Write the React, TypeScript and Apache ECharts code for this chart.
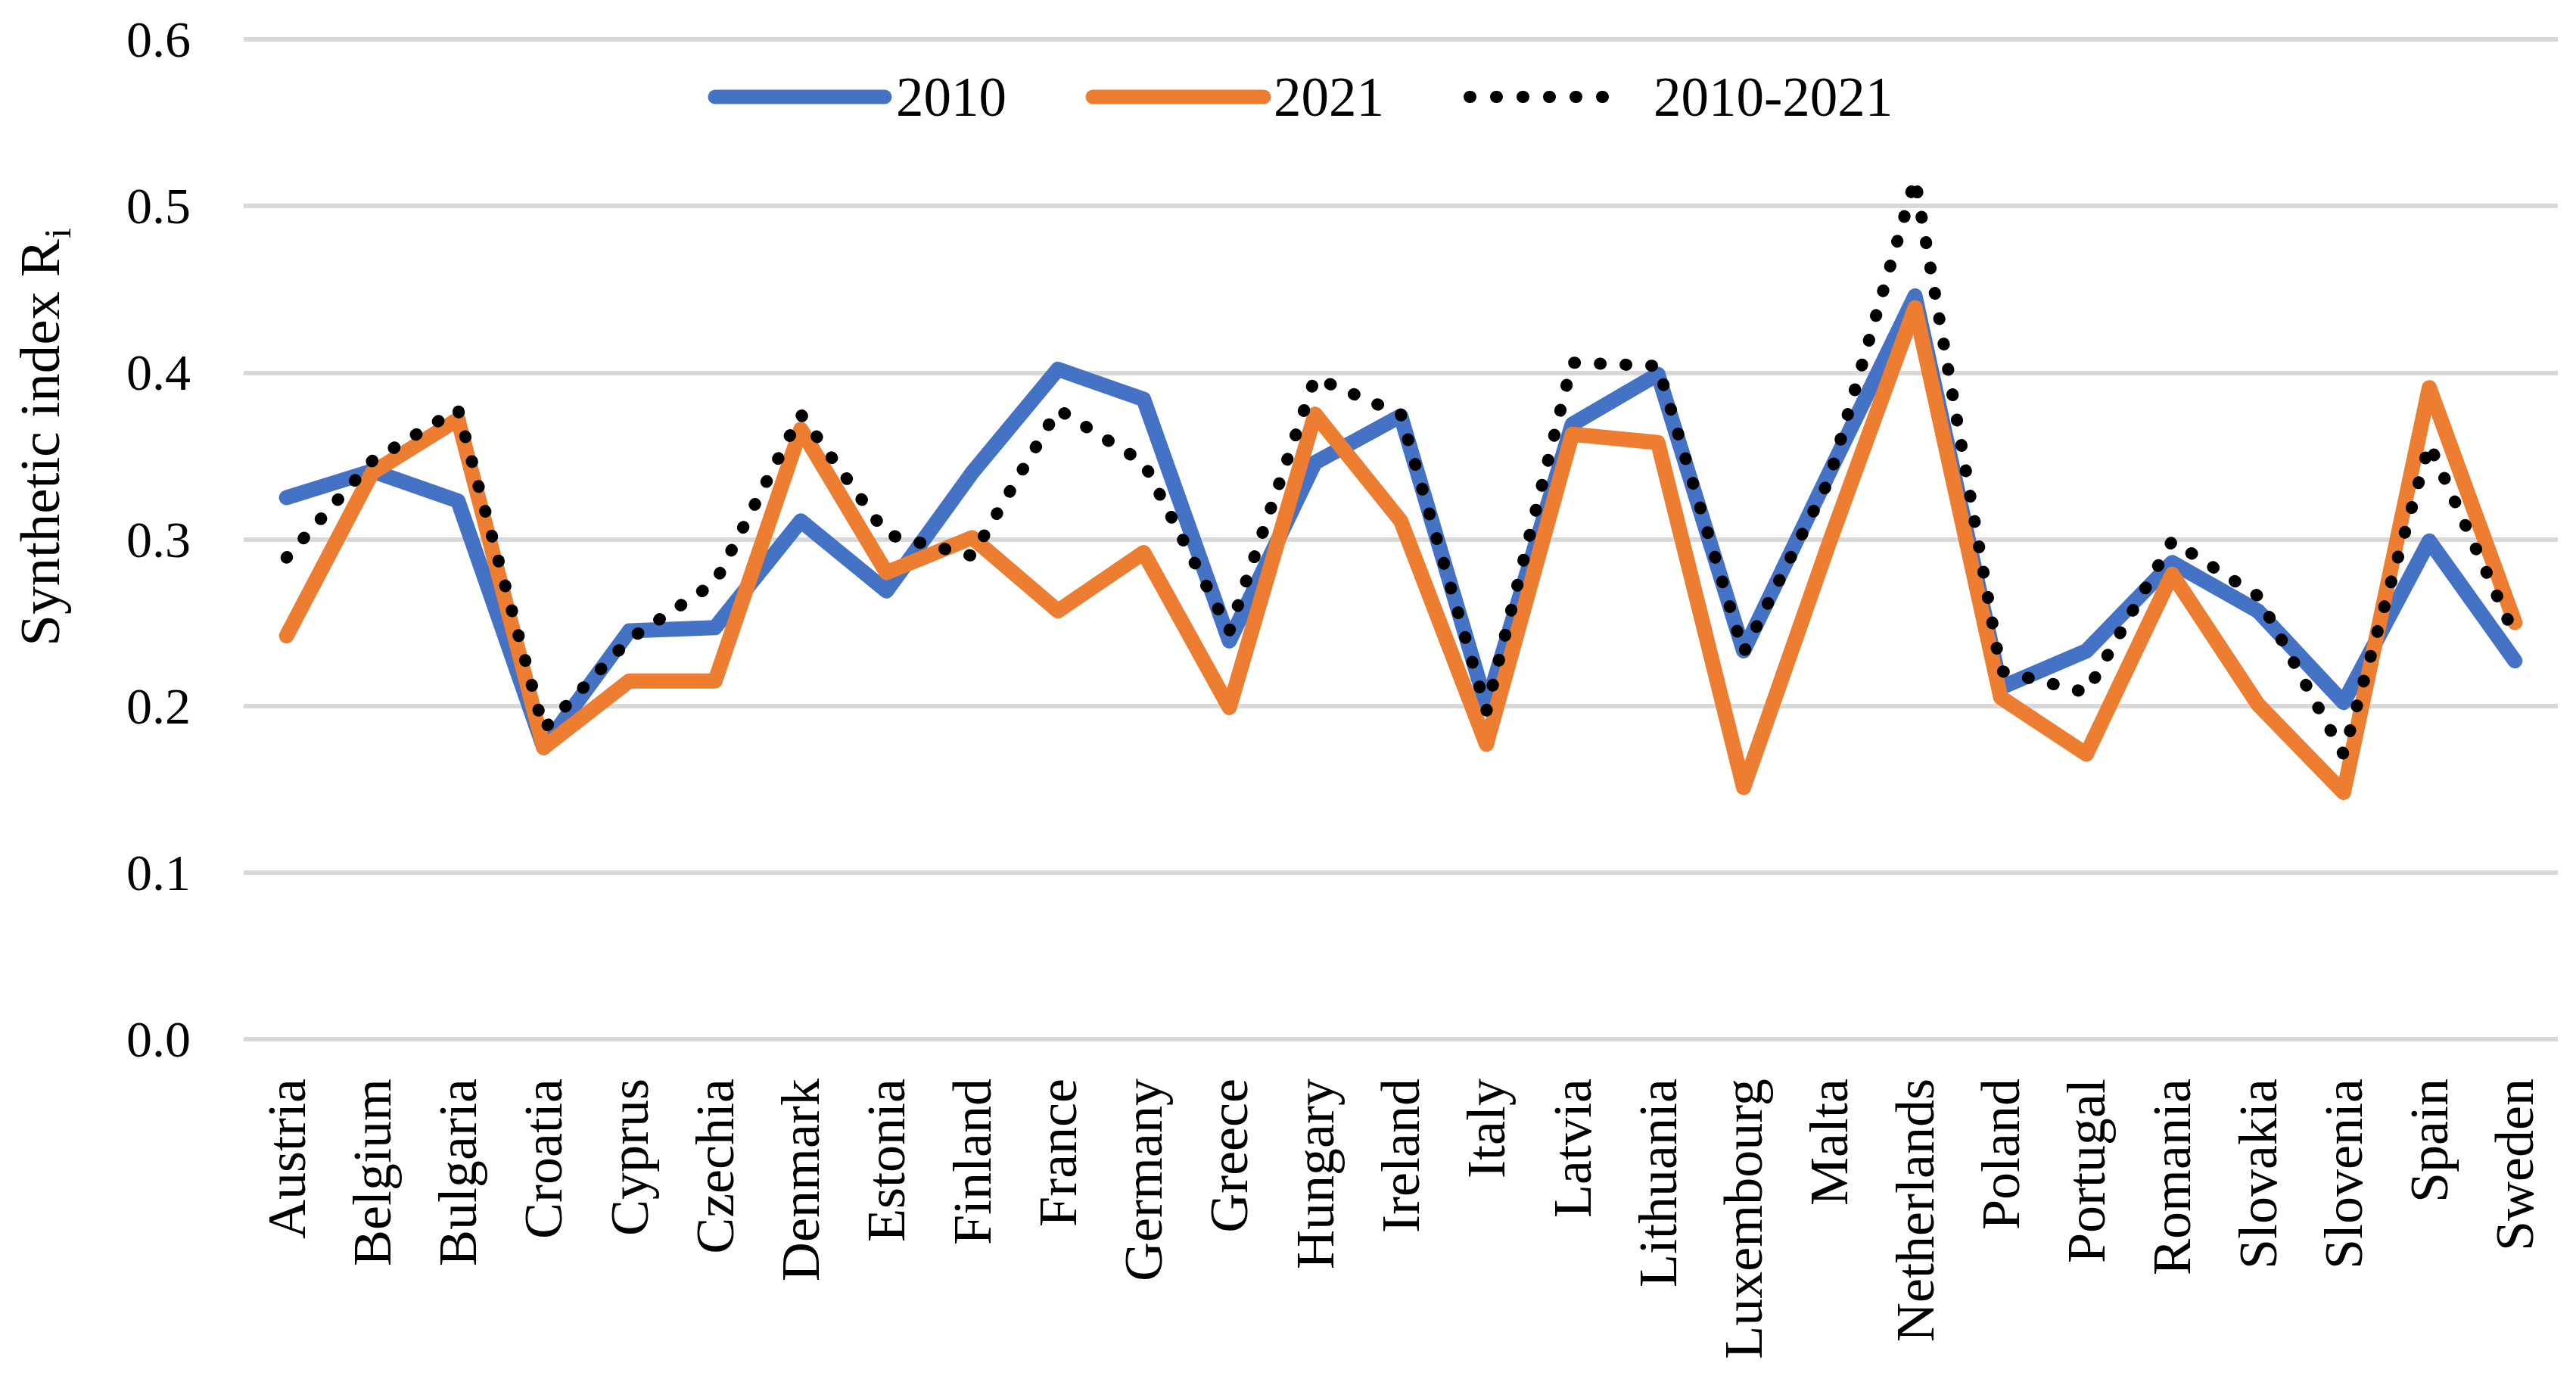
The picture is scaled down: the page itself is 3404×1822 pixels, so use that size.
import React, { useEffect, useRef } from "react";
import * as echarts from "echarts";

const countries = [
  "Austria", "Belgium", "Bulgaria", "Croatia", "Cyprus", "Czechia", "Denmark",
  "Estonia", "Finland", "France", "Germany", "Greece", "Hungary", "Ireland",
  "Italy", "Latvia", "Lithuania", "Luxembourg", "Malta", "Netherlands",
  "Poland", "Portugal", "Romania", "Slovakia", "Slovenia", "Spain", "Sweden",
];

const values2010 = [
  0.325, 0.341, 0.323, 0.175, 0.245, 0.247, 0.311, 0.269, 0.340, 0.402,
  0.384, 0.239, 0.346, 0.374, 0.200, 0.369, 0.399, 0.233, 0.340, 0.446,
  0.211, 0.233, 0.286, 0.257, 0.202, 0.299, 0.227,
];

const values2021 = [
  0.242, 0.340, 0.372, 0.175, 0.215, 0.215, 0.366, 0.280, 0.301, 0.257,
  0.292, 0.199, 0.375, 0.311, 0.177, 0.363, 0.358, 0.151, 0.298, 0.439,
  0.205, 0.171, 0.279, 0.201, 0.148, 0.391, 0.250,
];

const values2010to2021 = [
  0.289, 0.347, 0.378, 0.186, 0.240, 0.274, 0.375, 0.303, 0.290, 0.378,
  0.346, 0.245, 0.397, 0.375, 0.197, 0.406, 0.404, 0.232, 0.336, 0.516,
  0.221, 0.208, 0.299, 0.266, 0.171, 0.357, 0.242,
];

const seriesNames = ["2010", "2021", "2010-2021"];
const seriesColors = ["#4472C4", "#ED7D31", "#000000"];
const yAxisTitle = "Synthetic index R";
const yAxisTitleSub = "i";

const FONT = "Liberation Serif";

export default function App() {
  const ref = useRef<HTMLDivElement>(null);

  useEffect(() => {
    document.body.style.margin = "0";
    const chart = echarts.init(ref.current!, null, { renderer: "svg" });

    const legendY = 128;
    const legendItems = [
      { x1: 945, x2: 1169, tx: 1184, dotted: false },
      { x1: 1444, x2: 1670, tx: 1683, dotted: false },
      { x1: 1942, x2: 2152, tx: 2185, dotted: true },
    ];

    const graphic: any[] = [];
    legendItems.forEach((it, i) => {
      graphic.push({
        type: "line",
        shape: { x1: it.x1, y1: legendY, x2: it.x2, y2: legendY },
        style: {
          stroke: seriesColors[i],
          lineWidth: it.dotted ? 16 : 19,
          lineCap: "round",
          lineDash: it.dotted ? [1, 34] : null,
        },
        z: 10,
      });
      graphic.push({
        type: "text",
        x: it.tx,
        y: legendY,
        style: {
          text: seriesNames[i],
          fontFamily: FONT,
          fontSize: 73,
          fill: "#000",
          align: "left",
          verticalAlign: "middle",
        },
        z: 10,
      });
    });

    graphic.push({
      type: "text",
      x: 52,
      y: 585,
      rotation: Math.PI / 2,
      style: {
        text: yAxisTitle,
        fontFamily: FONT,
        fontSize: 75,
        fill: "#000",
        align: "center",
        verticalAlign: "middle",
      },
    });
    graphic.push({
      type: "text",
      x: 76,
      y: 315,
      rotation: Math.PI / 2,
      style: {
        text: yAxisTitleSub,
        fontFamily: FONT,
        fontSize: 50,
        fill: "#000",
        align: "left",
        verticalAlign: "middle",
      },
    });

    const lineSeries = (idx: number, data: number[]) => ({
      name: seriesNames[idx],
      type: "line",
      data,
      symbol: "none",
      z: 2 + idx,
      lineStyle:
        idx === 2
          ? { color: seriesColors[idx], width: 16, type: [1, 33], cap: "round", join: "round" }
          : { color: seriesColors[idx], width: 20, cap: "round", join: "round" },
    });

    chart.setOption({
      animation: false,
      backgroundColor: "#ffffff",
      textStyle: { fontFamily: FONT },
      grid: { left: 322, right: 24, top: 52, bottom: 449, containLabel: false },
      xAxis: {
        type: "category",
        data: countries,
        boundaryGap: true,
        axisLine: { show: false },
        axisTick: { show: false },
        splitLine: { show: false },
        axisLabel: {
          interval: 0,
          rotate: 90,
          margin: 52,
          fontFamily: FONT,
          fontSize: 72,
          color: "#000",
        },
      },
      yAxis: {
        type: "value",
        min: 0,
        max: 0.6,
        interval: 0.1,
        axisLine: { show: false },
        axisTick: { show: false },
        splitLine: { show: true, lineStyle: { color: "#D9D9D9", width: 6 } },
        axisLabel: {
          formatter: (v: number) => v.toFixed(1),
          margin: 70,
          fontFamily: FONT,
          fontSize: 68,
          color: "#000",
        },
      },
      legend: { show: false },
      graphic,
      series: [
        lineSeries(0, values2010),
        lineSeries(1, values2021),
        lineSeries(2, values2010to2021),
      ],
    });

    return () => chart.dispose();
  }, []);

  return <div ref={ref} style={{ width: 3404, height: 1822 }} />;
}
